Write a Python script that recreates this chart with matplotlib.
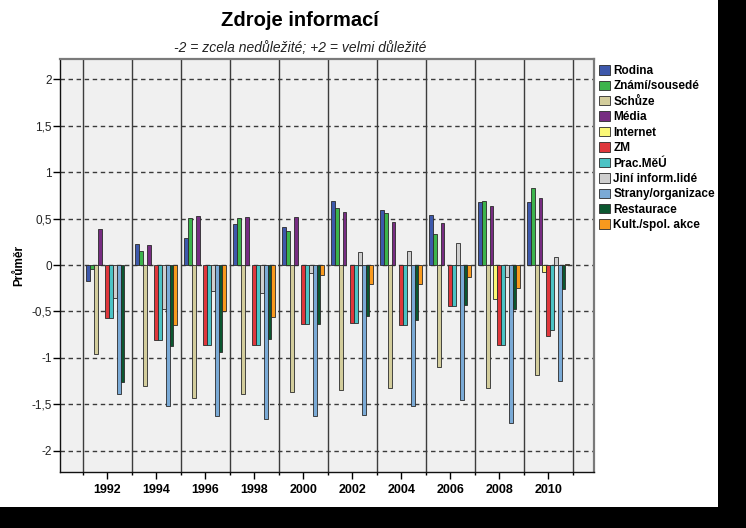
import numpy as np
import matplotlib
matplotlib.use("Agg")
import matplotlib.pyplot as plt
from matplotlib.patches import Rectangle
from matplotlib.ticker import FuncFormatter, MultipleLocator

plt.rcParams['font.family'] = ['Liberation Sans', 'DejaVu Sans']

nan = np.nan
years = [1992, 1994, 1996, 1998, 2000, 2002, 2004, 2006, 2008, 2010]
series_names = ["Rodina", "Známí/sousedé", "Schůze", "Média", "Internet", "ZM",
                "Prac.MěÚ", "Jiní inform.lidé", "Strany/organizace", "Restaurace",
                "Kult./spol. akce"]

rodina = [-0.17, 0.23, 0.29, 0.44, 0.41, 0.69, 0.59, 0.54, 0.68, 0.68]
znami = [-0.04, 0.15, 0.51, 0.51, 0.37, 0.61, 0.56, 0.33, 0.69, 0.83]
schuze = [-0.96, -1.30, -1.43, -1.39, -1.37, -1.35, -1.32, -1.10, -1.32, -1.18]
media = [0.39, 0.22, 0.53, 0.52, 0.52, 0.57, 0.46, 0.45, 0.64, 0.72]
internet = [nan, nan, nan, nan, nan, nan, nan, nan, -0.37, -0.08]
zm = [-0.57, -0.81, -0.86, -0.86, -0.64, -0.62, -0.65, -0.44, -0.86, -0.77]
prac_meu = [-0.57, -0.81, -0.86, -0.86, -0.64, -0.62, -0.65, -0.44, -0.86, -0.70]
jini = [-0.35, -0.47, -0.28, -0.30, -0.09, 0.14, 0.15, 0.24, -0.13, 0.09]
strany = [-1.39, -1.52, -1.63, -1.66, -1.63, -1.62, -1.52, -1.45, -1.70, -1.25]
restaurace = [-1.26, -0.87, -0.94, -0.80, -0.63, -0.55, -0.59, -0.43, -0.47, -0.26]
kult = [nan, -0.65, -0.49, -0.56, -0.11, -0.20, -0.20, -0.13, -0.25, 0.01]

values = [rodina, znami, schuze, media, internet, zm, prac_meu, jini, strany,
          restaurace, kult]
colors = ["#3d58ab", "#3cb44c", "#d3cd9c", "#772c82", "#fbf876", "#df373c",
          "#4bc3c5", "#cfcfcf", "#7aaad6", "#0b5730", "#f8991e"]

fig = plt.figure(figsize=(7.46, 5.28), dpi=100)
fig.patch.set_facecolor("black")
fig.patches.append(Rectangle((0, 1 - 507 / 528), 718 / 746, 507 / 528,
                             transform=fig.transFigure, facecolor="white",
                             edgecolor="none", zorder=-10))

ax = fig.add_axes([60 / 746, 1 - 472 / 528, 534 / 746, 413 / 528])
ax.set_facecolor("#f0f0f0")

n = len(values)
w = 0.156
for i, (vals, col, name) in enumerate(zip(values, colors, series_names)):
    x = np.array(years) + (i - (n - 1) / 2) * w
    ax.bar(x, vals, width=w, color=col, edgecolor="#2a2a2a", linewidth=0.6,
           label=name, zorder=3)

ax.set_xlim(1990.07, 2011.87)
ax.set_ylim(-2.23, 2.22)

for yv in np.arange(-2, 2.01, 0.5):
    ax.axhline(yv, color="#3a3a3a", linewidth=1.0, dashes=(3.2, 2.6), zorder=2)
for xv in range(1991, 2012, 2):
    ax.axvline(xv, color="#3c3c3c", linewidth=1.0, zorder=1)

ax.set_xticks(years)
ax.set_xticks(range(1991, 2012, 2), minor=True)
ax.tick_params(axis="x", which="major", length=5, width=1, pad=3.5,
               labelsize=9)
ax.tick_params(axis="x", which="minor", length=2.5, width=1)
for lab in ax.get_xticklabels():
    lab.set_fontweight("bold")

ax.yaxis.set_major_locator(MultipleLocator(0.5))
ax.yaxis.set_major_formatter(FuncFormatter(
    lambda v, p: ("%g" % v).replace(".", ",")))
ax.tick_params(axis="y", length=5, width=1, pad=1, labelsize=8.5,
               labelcolor="#222222")

for side in ["left", "bottom"]:
    ax.spines[side].set_color("#111111")
    ax.spines[side].set_linewidth(1.0)
for side in ["top", "right"]:
    ax.spines[side].set_color("#7a7a7a")
    ax.spines[side].set_linewidth(1.6)

ax.set_ylabel("Průměr", fontsize=8.5, fontweight="bold")
ax.yaxis.set_label_coords(-0.066, 0.5)

fig.text(300 / 746, 1 - 21 / 528, "Zdroje informací", ha="center",
         va="center", fontsize=14.5, fontweight="bold")
fig.text(300 / 746, 1 - 48 / 528, "-2 = zcela nedůležité; +2 = velmi důležité",
         ha="center", va="center", fontsize=10, style="italic",
         color="#222222")

leg = fig.legend(loc="upper left", bbox_to_anchor=(599 / 746, 1 - 65 / 528),
                 frameon=False, borderpad=0, borderaxespad=0,
                 handlelength=0.95, handleheight=0.85, handletextpad=0.25,
                 labelspacing=0.29, prop={"size": 8.5, "weight": "bold"})

fig.savefig("out.png", dpi=100, facecolor=fig.get_facecolor())
